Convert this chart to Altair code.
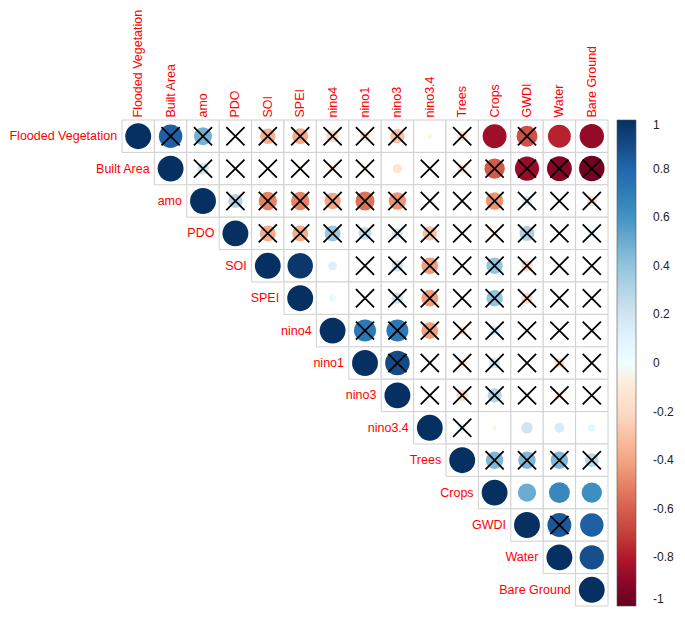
import altair as alt
import pandas as pd

variables = ["Flooded Vegetation", "Built Area", "amo", "PDO", "SOI", "SPEI",
             "nino4", "nino1", "nino3", "nino3.4", "Trees", "Crops", "GWDI",
             "Water", "Bare Ground"]

# upper-triangle correlations, each row starts at the diagonal
r_flooded = [1, 0.82, 0.48, 0.0, -0.36, -0.38, -0.22, -0.15, -0.3, -0.03, -0.15, -0.85, -0.65, -0.78, -0.88]
r_built = [1, 0.2, 0.0, 0.02, -0.05, -0.1, -0.05, -0.13, -0.03, -0.12, -0.62, -0.87, -0.92, -0.97]
r_amo = [1, 0.3, -0.5, -0.5, -0.4, -0.55, -0.45, 0.0, 0.0, -0.45, 0.15, 0.0, -0.15]
r_pdo = [1, -0.38, -0.38, 0.38, 0.25, 0.18, -0.3, 0.0, -0.08, 0.33, 0.0, 0.08]
r_soi = [1, 0.97, 0.12, 0.0, 0.2, -0.42, 0.0, 0.4, -0.2, 0.0, 0.0]
r_spei = [1, 0.07, 0.02, 0.2, -0.42, 0.0, 0.4, -0.2, 0.0, 0.0]
r_nino4 = [1, 0.72, 0.72, -0.42, -0.12, 0.15, 0.02, -0.03, 0.08]
r_nino1 = [1, 0.9, 0.0, -0.12, 0.18, 0.02, -0.15, 0.0]
r_nino3 = [1, 0.0, -0.2, 0.3, 0.05, -0.1, 0.0]
r_nino34 = [1, 0.1, -0.03, 0.2, 0.15, 0.08]
r_trees = [1, 0.45, 0.45, 0.45, 0.28]
r_crops = [1, 0.5, 0.65, 0.62]
r_gwdi = [1, 0.85, 0.82]
r_water = [1, 0.88]
r_bare = [1]

# 1 = not significant (crossed out)
x_flooded = [0, 1, 1, 1, 1, 1, 1, 1, 1, 0, 1, 0, 1, 0, 0]
x_built = [0, 1, 1, 1, 1, 1, 1, 0, 1, 1, 1, 1, 1, 1]
x_amo = [0, 1, 1, 1, 1, 1, 1, 1, 1, 1, 1, 1, 1]
x_pdo = [0, 1, 1, 1, 1, 1, 1, 1, 1, 1, 1, 1]
x_soi = [0, 0, 0, 1, 1, 1, 1, 1, 1, 1, 1]
x_spei = [0, 0, 1, 1, 1, 1, 1, 1, 1, 1]
x_nino4 = [0, 1, 1, 1, 1, 1, 1, 1, 1]
x_nino1 = [0, 1, 1, 1, 1, 1, 1, 1]
x_nino3 = [0, 1, 1, 1, 1, 1, 1]
x_nino34 = [0, 1, 0, 0, 0, 0]
x_trees = [0, 1, 1, 1, 1]
x_crops = [0, 0, 0, 0]
x_gwdi = [0, 1, 0]
x_water = [0, 0]
x_bare = [0]

colorbar_ticks = [1, 0.8, 0.6, 0.4, 0.2, 0, -0.2, -0.4, -0.6, -0.8, -1]
rdbu_domain = [-1, -0.8, -0.6, -0.4, -0.2, 0, 0.2, 0.4, 0.6, 0.8, 1]
rdbu_colors = ["#67001F", "#B2182B", "#D6604D", "#F4A582", "#FDDBC7", "#FFFFFF",
               "#D1E5F0", "#92C5DE", "#4393C3", "#2166AC", "#053061"]

r_rows = [r_flooded, r_built, r_amo, r_pdo, r_soi, r_spei, r_nino4, r_nino1,
          r_nino3, r_nino34, r_trees, r_crops, r_gwdi, r_water, r_bare]
x_rows = [x_flooded, x_built, x_amo, x_pdo, x_soi, x_spei, x_nino4, x_nino1,
          x_nino3, x_nino34, x_trees, x_crops, x_gwdi, x_water, x_bare]

records = []
for i, (rv, xv) in enumerate(zip(r_rows, x_rows)):
    for k, (r, ins) in enumerate(zip(rv, xv)):
        records.append({"row": variables[i], "col": variables[i + k],
                        "r": r, "absr": abs(r), "insig": ins})
df = pd.DataFrame(records)
diag = pd.DataFrame({"row": variables, "col": variables})

W = 486
FULL = 670  # area of a |r|=1 circle

xenc = alt.X("col:N", sort=variables, title=None,
             scale=alt.Scale(paddingInner=0, paddingOuter=0),
             axis=alt.Axis(orient="top", labelAngle=-90, labelAlign="left",
                           labelBaseline="middle", labelColor="red",
                           labelFontSize=12.5, labelPadding=3, domain=False,
                           ticks=False, grid=False))
yenc = alt.Y("row:N", sort=variables, title=None,
             scale=alt.Scale(paddingInner=0, paddingOuter=0), axis=None)

base = alt.Chart(df).encode(x=xenc, y=yenc)

cells = base.mark_rect(fill="white", stroke="#d0d0d0", strokeWidth=1)

# pad short labels with no-break spaces so the column of labels looks centred
label_expr = ("(abs(datum.value) == 1 ? (datum.value < 0 ? '\u00a0' : '\u00a0\u00a0') : "
              "(datum.value == 0 ? '\u00a0\u00a0' : '')) + datum.value")

circles = base.mark_circle(opacity=1).encode(
    size=alt.Size("absr:Q", scale=alt.Scale(domain=[0, 1], range=[0, FULL]), legend=None),
    color=alt.Color("r:Q",
                    scale=alt.Scale(domain=rdbu_domain, range=rdbu_colors),
                    legend=alt.Legend(orient="none", legendX=W + 9, legendY=0,
                                      direction="vertical", title=None,
                                      gradientLength=W, gradientThickness=19,
                                      values=colorbar_ticks,
                                      labelExpr=label_expr,
                                      labelBaseline="middle",
                                      labelOffset=17, labelFontSize=12,
                                      labelColor="#222", labelOverlap=False,
                                      gradientStrokeColor="#555",
                                      gradientStrokeWidth=0.6)),
)

crosses = base.transform_filter("datum.insig == 1").mark_point(
    shape="M-1,-1L1,1M-1,1L1,-1", filled=False, stroke="black",
    strokeWidth=1.8, size=330, opacity=1)

labels = alt.Chart(diag).mark_text(align="right", baseline="middle", dx=-21,
                                   fontSize=12.5, color="red").encode(
    x=alt.X("col:N", sort=variables), y=alt.Y("row:N", sort=variables), text="row:N")

chart = alt.layer(cells, circles, crosses, labels).properties(
    width=W, height=W,
    autosize=alt.AutoSizeParams(type="none"),
    padding={"left": 114, "top": 112, "right": 69, "bottom": 7},
).configure(font="Liberation Sans").configure_view(stroke=None)

chart.save("out.html", embed_options={"renderer": "svg", "actions": False})
